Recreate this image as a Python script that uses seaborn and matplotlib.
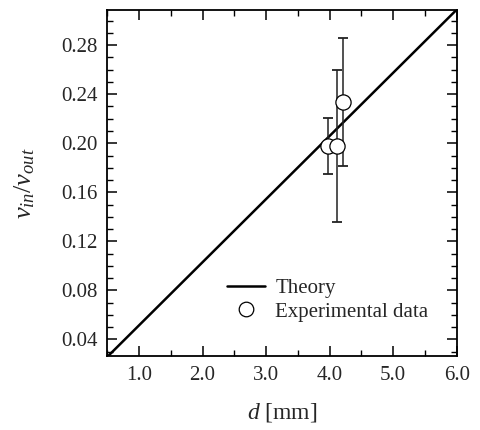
import numpy as np
import pandas as pd
import matplotlib
matplotlib.use("Agg")
import matplotlib.pyplot as plt
import seaborn as sns
from matplotlib.lines import Line2D

# Theory line
theory_d = [0.5, 6.0]
theory_v = [0.0257, 0.309]

# Experimental data
exp_d = [3.98, 4.12, 4.21]
exp_v = [0.198, 0.198, 0.234]
err_lo = [0.1747, 0.1355, 0.1817]
err_hi = [0.2204, 0.2598, 0.2857]

x_ticks = [1.0, 2.0, 3.0, 4.0, 5.0, 6.0]
y_ticks = [0.04, 0.08, 0.12, 0.16, 0.20, 0.24, 0.28]

sns.set_style("ticks")
plt.rcParams['font.family'] = ['Liberation Serif', 'DejaVu Serif']
plt.rcParams['mathtext.fontset'] = 'custom'
plt.rcParams['mathtext.it'] = 'Liberation Serif:italic'
plt.rcParams['mathtext.rm'] = 'Liberation Serif'

fig = plt.figure(figsize=(4.81, 4.30), dpi=100)
ax = fig.add_axes([0.223, 0.172, 0.7265, 0.805])

df_t = pd.DataFrame({"d": theory_d, "v": theory_v})
sns.lineplot(data=df_t, x="d", y="v", ax=ax, color="black", lw=1.8, zorder=2)

yerr = np.array([np.array(exp_v) - np.array(err_lo), np.array(err_hi) - np.array(exp_v)])
ax.errorbar(exp_d, exp_v, yerr=yerr, fmt="none", ecolor="#222222", elinewidth=1.1,
            capsize=3.5, capthick=1.3, zorder=3)
df_e = pd.DataFrame({"d": exp_d, "v": exp_v})
sns.scatterplot(data=df_e, x="d", y="v", ax=ax, marker="o", s=120, facecolor="white",
                edgecolor="black", linewidth=0.9, zorder=4)

ax.set_xlim(0.5, 6.0)
ax.set_ylim(0.0264, 0.3088)
ax.set_xticks(x_ticks)
ax.set_xticklabels([f"{t:.1f}" for t in x_ticks])
ax.set_yticks(y_ticks)
ax.set_yticklabels([f"{t:.2f}" for t in y_ticks])
ax.xaxis.set_minor_locator(matplotlib.ticker.MultipleLocator(0.5))
ax.yaxis.set_minor_locator(matplotlib.ticker.MultipleLocator(0.01))
ax.tick_params(which="both", direction="in", top=True, right=True, labelsize=15, color="black")
ax.tick_params(which="major", length=7, width=1.1, pad=7)
ax.tick_params(which="minor", length=4, width=1.0)
for s in ax.spines.values():
    s.set_linewidth(1.3)
    s.set_color("black")

ax.set_xlabel(r"$d$ [mm]", fontsize=17, labelpad=12)
ax.set_ylabel(r"$v_{in}/v_{out}$", fontsize=19, labelpad=17)

handles = [Line2D([], [], color="black", lw=1.8),
           Line2D([], [], marker="o", ls="none", markersize=10.5, markerfacecolor="white",
                  markeredgecolor="black", markeredgewidth=0.9)]
ax.legend(handles, ["Theory", "Experimental data"], loc="lower left",
          bbox_to_anchor=(0.29, 0.045), frameon=False, fontsize=15,
          handlelength=1.8, handletextpad=0.5, labelspacing=0.2)

fig.savefig("out.png", dpi=100)
